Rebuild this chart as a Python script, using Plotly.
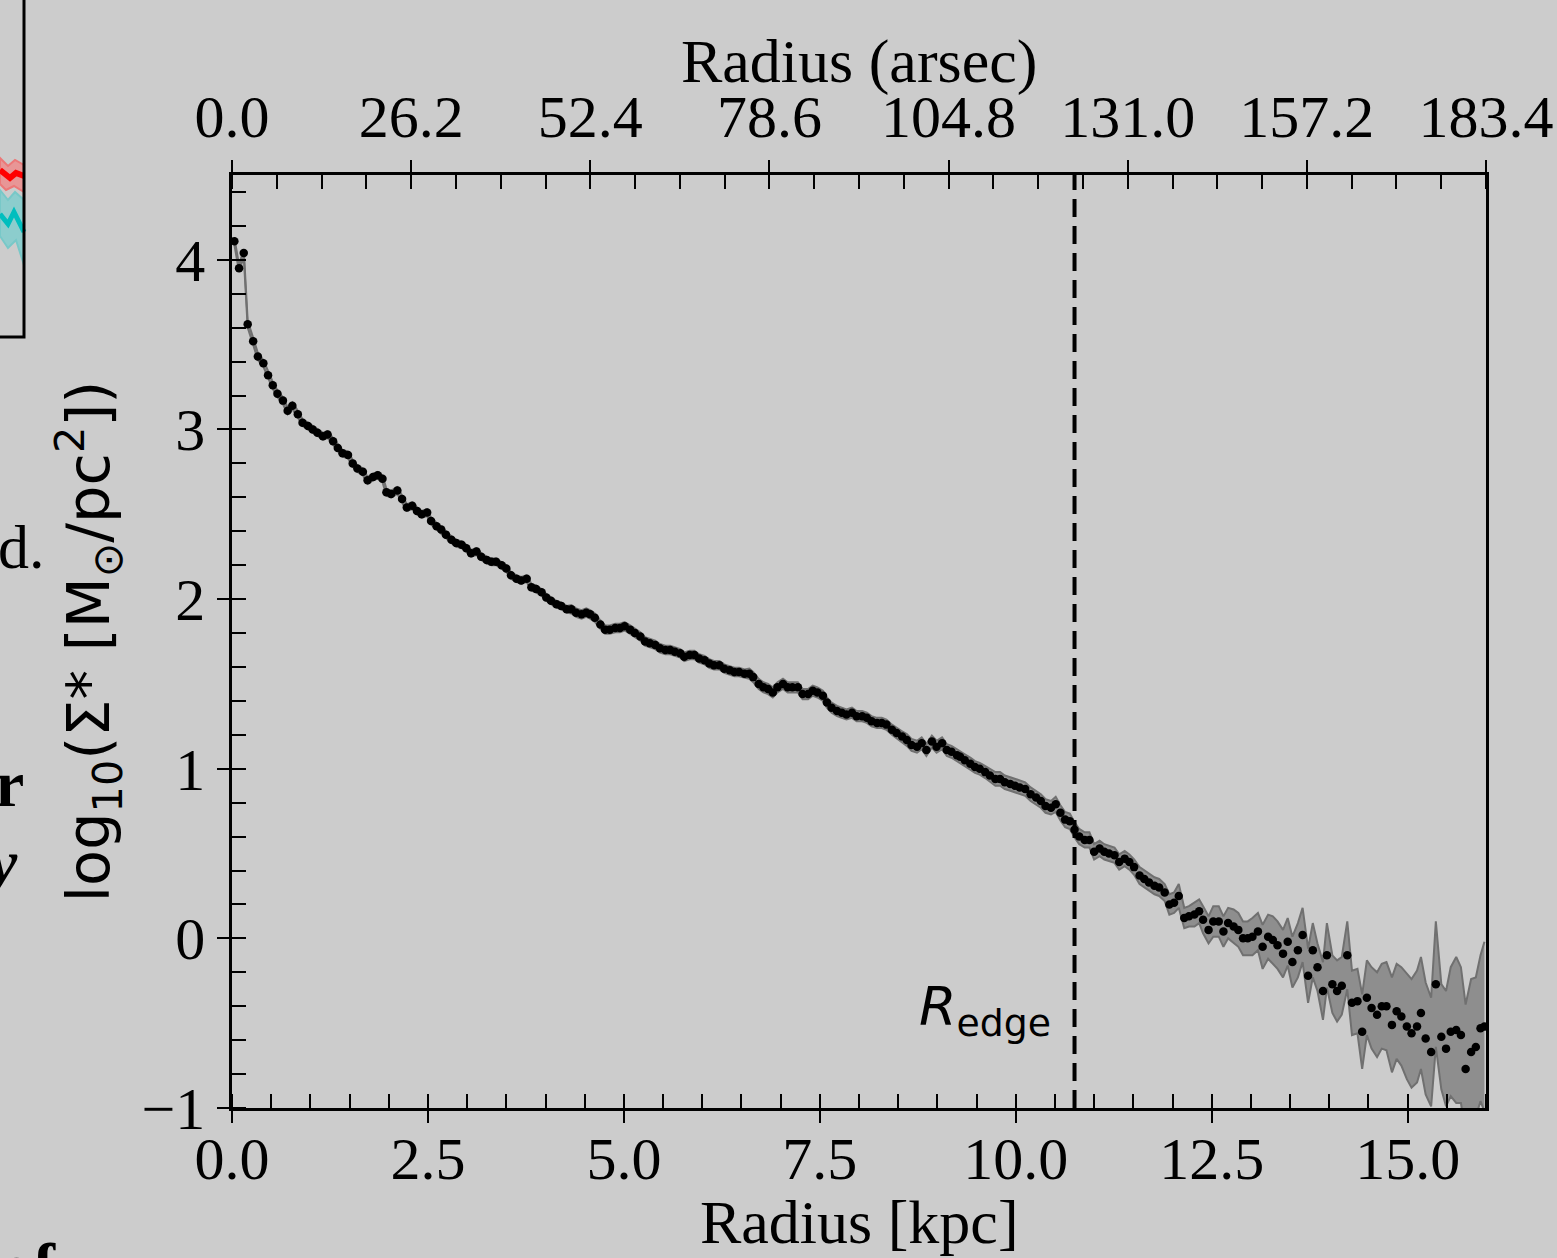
import plotly.graph_objects as go

# ---------------- data ----------------
radius_kpc = [
    0.03, 0.09, 0.15, 0.20, 0.27, 0.33, 0.40, 0.46, 0.52, 0.58, 0.65, 0.71, 0.77, 0.84, 0.90, 0.97,
    1.03, 1.09, 1.16, 1.22, 1.29, 1.35, 1.41, 1.48, 1.54, 1.60, 1.67, 1.73, 1.80, 1.86, 1.92, 1.97,
    2.03, 2.11, 2.17, 2.23, 2.30, 2.36, 2.42, 2.49, 2.54, 2.61, 2.67, 2.73, 2.80, 2.86, 2.93, 2.99,
    3.05, 3.12, 3.18, 3.25, 3.31, 3.37, 3.44, 3.50, 3.56, 3.63, 3.69, 3.76, 3.82, 3.88, 3.95, 4.01,
    4.07, 4.14, 4.20, 4.27, 4.33, 4.39, 4.46, 4.52,
    4.57, 4.63, 4.70, 4.76, 4.82, 4.89, 4.95, 5.01, 5.08, 5.14, 5.21, 5.27, 5.33, 5.40, 5.46, 5.53,
    5.59, 5.65, 5.72, 5.77, 5.84, 5.90, 5.96, 6.03, 6.09, 6.15, 6.22, 6.28, 6.35, 6.41, 6.47, 6.54,
    6.60, 6.65, 6.72, 6.78, 6.84, 6.90, 6.96, 7.03, 7.09, 7.15, 7.22, 7.28, 7.35, 7.41, 7.47, 7.54,
    7.59, 7.65, 7.72, 7.78, 7.84, 7.91, 7.97, 8.04, 8.10, 8.16, 8.23, 8.29, 8.35, 8.42, 8.48, 8.55,
    8.61, 8.67, 8.74, 8.80, 8.86, 8.93, 8.99, 9.06, 9.12, 9.18, 9.25,
    9.29, 9.35, 9.42, 9.48, 9.54, 9.61, 9.67, 9.74, 9.80, 9.86, 9.93, 9.99, 10.05, 10.12, 10.19, 10.26,
    10.32, 10.38, 10.45, 10.51, 10.57, 10.63, 10.69, 10.75, 10.81, 10.88, 10.94, 11.00, 11.07, 11.13,
    11.19, 11.26, 11.32, 11.39, 11.45, 11.51, 11.58, 11.64, 11.70, 11.77, 11.83, 11.90, 11.96, 12.02,
    12.08, 12.15, 12.21, 12.28, 12.34, 12.39, 12.46, 12.52, 12.59, 12.65, 12.71, 12.78, 12.84, 12.90,
    12.96, 13.02, 13.09,
    13.15, 13.22, 13.28, 13.34, 13.41, 13.47, 13.53, 13.60, 13.66, 13.73, 13.79, 13.85, 13.92, 13.97,
    14.04, 14.10, 14.16, 14.23, 14.29, 14.36, 14.42, 14.48, 14.54, 14.61, 14.67, 14.73, 14.80, 14.86,
    14.92, 14.99, 15.05, 15.12, 15.17, 15.23, 15.30, 15.36, 15.43, 15.49, 15.55, 15.62, 15.68, 15.74,
    15.81, 15.87, 15.93, 15.98,
]

log_sigma = [
    4.11, 3.95, 4.04, 3.62, 3.52, 3.43, 3.39, 3.32, 3.26, 3.21, 3.17, 3.11, 3.14, 3.09, 3.04, 3.02,
    3.00, 2.98, 2.96, 2.97, 2.93, 2.89, 2.86, 2.85, 2.80, 2.77, 2.75, 2.70, 2.72, 2.73, 2.71, 2.63,
    2.62, 2.64, 2.59, 2.54, 2.55, 2.52, 2.50, 2.51, 2.46, 2.43, 2.41, 2.38, 2.35, 2.33, 2.32, 2.30,
    2.27, 2.28, 2.25, 2.23, 2.22, 2.22, 2.20, 2.18, 2.14, 2.12, 2.11, 2.12, 2.07, 2.06, 2.04, 2.01,
    1.99, 1.97, 1.96, 1.94, 1.94, 1.92, 1.91, 1.92,
    1.91, 1.89, 1.85, 1.82, 1.82, 1.83, 1.83, 1.84, 1.82, 1.80, 1.78, 1.75, 1.74, 1.73, 1.71, 1.70,
    1.70, 1.69, 1.68, 1.66, 1.67, 1.67, 1.65, 1.64, 1.62, 1.61, 1.61, 1.59, 1.58, 1.57, 1.57, 1.56,
    1.56, 1.54, 1.50, 1.48, 1.47, 1.45, 1.48, 1.50, 1.48, 1.48, 1.48, 1.44, 1.44, 1.46, 1.45, 1.43,
    1.39, 1.36, 1.34, 1.33, 1.32, 1.33, 1.31, 1.31, 1.30, 1.28, 1.27, 1.27, 1.26, 1.23, 1.21, 1.19,
    1.17, 1.14, 1.13, 1.15, 1.11, 1.16, 1.13, 1.15, 1.11, 1.10, 1.08,
    1.07, 1.05, 1.03, 1.01, 1.00, 0.98, 0.96, 0.94, 0.94, 0.92, 0.91, 0.90, 0.89, 0.88, 0.85, 0.83,
    0.81, 0.78, 0.77, 0.79, 0.74, 0.70, 0.69, 0.64, 0.60, 0.58, 0.58, 0.51, 0.53, 0.51,
    0.50, 0.49, 0.45, 0.47, 0.45, 0.42, 0.37, 0.35, 0.33, 0.31, 0.30, 0.27, 0.20, 0.21,
    0.25, 0.12, 0.13, 0.14, 0.16, 0.11, 0.05, 0.10, 0.10, 0.04, 0.09, 0.07, 0.05, 0.00,
    0.00, 0.01, 0.04,
    -0.05, 0.01, -0.01, -0.04, -0.09, -0.02, -0.14, -0.07, 0.02, -0.22, -0.07, -0.17, -0.31, -0.10,
    -0.27, -0.31, -0.28, -0.10, -0.38, -0.37, -0.55, -0.35, -0.41, -0.45, -0.40, -0.40, -0.51, -0.43,
    -0.46, -0.52, -0.56, -0.52, -0.44, -0.59, -0.67, -0.27, -0.58, -0.65, -0.55, -0.54, -0.57, -0.77,
    -0.67, -0.64, -0.53, -0.52,
]

log_sigma_err = [
    0.02, 0.02, 0.02, 0.02, 0.02, 0.02, 0.02, 0.02, 0.02, 0.02, 0.02, 0.02, 0.02, 0.02, 0.02, 0.02,
    0.02, 0.02, 0.02, 0.02, 0.02, 0.02, 0.02, 0.02, 0.02, 0.02, 0.02, 0.02, 0.02, 0.02, 0.02, 0.02,
    0.02, 0.02, 0.02, 0.02, 0.02, 0.02, 0.02, 0.02, 0.02, 0.02, 0.02, 0.02, 0.02, 0.02, 0.02, 0.02,
    0.02, 0.02, 0.02, 0.02, 0.02, 0.02, 0.02, 0.02, 0.02, 0.02, 0.02, 0.02, 0.02, 0.02, 0.02, 0.02,
    0.02, 0.02, 0.02, 0.02, 0.025, 0.025, 0.025, 0.025,
    0.025, 0.025, 0.025, 0.025, 0.025, 0.025, 0.025, 0.025, 0.025, 0.025, 0.025, 0.025, 0.025, 0.025, 0.025, 0.025,
    0.025, 0.025, 0.025, 0.025, 0.025, 0.025, 0.025, 0.025, 0.025, 0.025, 0.025, 0.025, 0.025, 0.025, 0.025, 0.025,
    0.03, 0.03, 0.03, 0.03, 0.03, 0.03, 0.03, 0.03, 0.03, 0.03, 0.03, 0.03, 0.03, 0.03, 0.03, 0.03,
    0.03, 0.03, 0.03, 0.03, 0.03, 0.03, 0.03, 0.03, 0.03, 0.03, 0.03, 0.03, 0.03, 0.03, 0.03, 0.03,
    0.035, 0.035, 0.035, 0.035, 0.035, 0.035, 0.035, 0.035, 0.035, 0.035, 0.035,
    0.035, 0.035, 0.035, 0.035, 0.035, 0.035, 0.035, 0.04, 0.04, 0.04, 0.04, 0.04, 0.04, 0.04, 0.04, 0.04,
    0.04, 0.04, 0.04, 0.045, 0.045, 0.045, 0.045, 0.045, 0.045, 0.045, 0.045, 0.045, 0.045, 0.045,
    0.045, 0.045, 0.045, 0.045, 0.045, 0.045, 0.05, 0.05, 0.05, 0.05, 0.05, 0.05, 0.06, 0.06,
    0.07, 0.06, 0.06, 0.07, 0.07, 0.08, 0.08, 0.09, 0.09, 0.09, 0.09, 0.10, 0.10, 0.10,
    0.10, 0.11, 0.11,
    0.13, 0.13, 0.14, 0.14, 0.14, 0.14, 0.15, 0.16, 0.16, 0.16, 0.16, 0.14, 0.17, 0.19,
    0.17, 0.18, 0.17, 0.20, 0.19, 0.19, 0.22, 0.22, 0.24, 0.25, 0.25, 0.26, 0.28, 0.28,
    0.29, 0.31, 0.32, 0.33, 0.33, 0.33, 0.32, 0.37, 0.31, 0.34, 0.38, 0.43, 0.40, 0.38,
    0.43, 0.41, 0.43, 0.50,
]

R_EDGE_KPC = 10.75

x_ticks_kpc = [0.0, 2.5, 5.0, 7.5, 10.0, 12.5, 15.0]
x_ticktext = ["0.0", "2.5", "5.0", "7.5", "10.0", "12.5", "15.0"]
arcsec_ticks = [0.0, 26.2, 52.4, 78.6, 104.8, 131.0, 157.2, 183.4]
ARCSEC_PER_KPC = 183.4 / 16.0
y_ticks = [-1, 0, 1, 2, 3, 4]
y_ticktext = ["\u22121", "0", "1", "2", "3", "4"]

# ---------------- figure ----------------
W, H = 1557, 1258
L, R, T, B = 232, 71, 175, 150
PW, PH = W - L - R, H - T - B


def px(xp):
    return (xp - L) / PW


def py(yp):
    return (H - B - yp) / PH


band_hi = [v + e for v, e in zip(log_sigma, log_sigma_err)]
band_lo = [v - e for v, e in zip(log_sigma, log_sigma_err)]

BAND_FILL = "rgb(142,142,142)"
BAND_LINE = "rgb(112,112,112)"
SERIF = "Liberation Serif"
SANS = "DejaVu Sans"

fig = go.Figure()
fig.add_trace(go.Scatter(x=radius_kpc, y=band_hi, mode="lines",
                         line=dict(color=BAND_LINE, width=2), hoverinfo="skip", showlegend=False))
fig.add_trace(go.Scatter(x=radius_kpc, y=band_lo, mode="lines", fill="tonexty",
                         fillcolor=BAND_FILL, line=dict(color=BAND_LINE, width=2),
                         hoverinfo="skip", showlegend=False))
fig.add_trace(go.Scatter(x=radius_kpc, y=log_sigma, mode="markers",
                         marker=dict(color="black", size=8.5, line=dict(width=0)),
                         showlegend=False))
# invisible trace to activate the top axis
fig.add_trace(go.Scatter(x=[0, 16], y=[None, None], xaxis="x2", mode="lines",
                         showlegend=False, hoverinfo="skip"))

tickfont = dict(family=SERIF, size=60, color="black")

fig.update_layout(
    width=W, height=H,
    margin=dict(l=L, r=R, t=T, b=B, autoexpand=False),
    paper_bgcolor="#cccccc", plot_bgcolor="#cccccc",
    xaxis=dict(
        range=[0, 16], showgrid=False, zeroline=False,
        showline=True, linecolor="black", linewidth=2.5, mirror=False,
        tickmode="array", tickvals=x_ticks_kpc, ticktext=x_ticktext,
        ticks="outside", ticklen=12, tickwidth=2, tickcolor="black",
        minor=dict(ticks="inside", dtick=0.5, tick0=0, ticklen=14, tickwidth=1.8, tickcolor="black"),
        tickfont=tickfont, ticklabelstandoff=-16,
        automargin=False,
    ),
    xaxis2=dict(
        range=[0, 16], overlaying="x", side="top", anchor="y",
        showgrid=False, zeroline=False,
        showline=True, linecolor="black", linewidth=2.5,
        tickmode="array", tickvals=[a / ARCSEC_PER_KPC for a in arcsec_ticks],
        ticktext=[f"{a:.1f}" for a in arcsec_ticks],
        ticks="outside", ticklen=12, tickwidth=2, tickcolor="black",
        minor=dict(ticks="inside", dtick=26.2 / 4 / ARCSEC_PER_KPC, tick0=0, ticklen=14,
                   tickwidth=1.8, tickcolor="black"),
        tickfont=tickfont, ticklabelstandoff=-1,
        automargin=False,
    ),
    yaxis=dict(
        range=[-1, 4.5], showgrid=False, zeroline=False,
        showline=True, linecolor="black", linewidth=2.5, mirror=True,
        tickmode="array", tickvals=y_ticks, ticktext=y_ticktext,
        ticks="outside", ticklen=12, tickwidth=2, tickcolor="black",
        minor=dict(ticks="inside", dtick=0.2, tick0=0, ticklen=14, tickwidth=1.8, tickcolor="black"),
        tickfont=tickfont, ticklabelstandoff=0,
        title=dict(text="log<sub>10</sub>(\u03a3* [M<sub>\u2299</sub>/pc<sup>2</sup>])",
                   font=dict(family=SANS, size=59, color="black"), standoff=13),
        automargin=False,
    ),
    shapes=[
        dict(type="line", xref="x", yref="paper", x0=R_EDGE_KPC, x1=R_EDGE_KPC, y0=0, y1=1,
             line=dict(color="black", width=4, dash="18px,9px")),
        # remnant of neighbouring panel on the left
        dict(type="path", xref="paper", yref="paper",
             path=(f"M {px(0)} {py(158)} L {px(8)} {py(166)} L {px(15)} {py(160)} L {px(24)} {py(165)} "
                   f"L {px(24)} {py(192)} L {px(14)} {py(186)} L {px(6)} {py(190)} L {px(0)} {py(184)} Z"),
             fillcolor="rgb(232,150,150)", line=dict(color="rgb(236,120,120)", width=2)),
        dict(type="path", xref="paper", yref="paper",
             path=(f"M {px(0)} {py(190)} L {px(8)} {py(200)} L {px(15)} {py(192)} L {px(24)} {py(200)} "
                   f"L {px(24)} {py(265)} L {px(16)} {py(240)} L {px(8)} {py(248)} L {px(0)} {py(236)} Z"),
             fillcolor="rgb(140,205,205)", line=dict(color="rgb(120,200,200)", width=2)),
        dict(type="path", xref="paper", yref="paper",
             path=f"M {px(0)} {py(170)} L {px(10)} {py(178)} L {px(16)} {py(173)} L {px(24)} {py(176)}",
             line=dict(color="rgb(255,0,0)", width=6)),
        dict(type="path", xref="paper", yref="paper",
             path=f"M {px(0)} {py(214)} L {px(8)} {py(224)} L {px(14)} {py(212)} L {px(24)} {py(232)}",
             line=dict(color="rgb(0,190,190)", width=5)),
        dict(type="path", xref="paper", yref="paper",
             path=f"M {px(-5)} {py(337)} L {px(24)} {py(337)} L {px(24)} {py(-5)}",
             line=dict(color="black", width=3)),
    ],
    annotations=[
        dict(text="Radius (arsec)", x=0.5, y=py(62), xref="paper", yref="paper",
             xanchor="center", yanchor="middle", showarrow=False,
             font=dict(family=SERIF, size=62, color="black")),
        dict(text="Radius [kpc]", x=0.5, y=py(1222), xref="paper", yref="paper",
             xanchor="center", yanchor="middle", showarrow=False,
             font=dict(family=SERIF, size=62, color="black")),
        dict(text="<i>R</i><sub>edge</sub>", x=10.48, y=-0.42, xref="x", yref="y",
             xanchor="right", yanchor="middle", showarrow=False,
             font=dict(family=SANS, size=54, color="black")),
        dict(text="d.", x=px(47), y=py(547), xref="paper", yref="paper", xanchor="right",
             yanchor="middle", showarrow=False, font=dict(family=SERIF, size=62, color="black")),
        dict(text="<b>r</b>", x=px(26), y=py(783), xref="paper", yref="paper", xanchor="right",
             yanchor="middle", showarrow=False, font=dict(family=SERIF, size=66, color="black")),
        dict(text="<b><i>y</i></b>", x=px(20), y=py(862), xref="paper", yref="paper", xanchor="right",
             yanchor="middle", showarrow=False, font=dict(family=SERIF, size=66, color="black")),
        dict(text="<b>of</b>", x=px(58), y=py(1228), xref="paper", yref="paper", xanchor="right",
             yanchor="top", showarrow=False, font=dict(family=SERIF, size=66, color="black")),
    ],
)

fig.write_html("out.html", config={"displayModeBar": False},
               post_script="document.body.style.margin='0px';document.body.style.overflow='hidden';")
